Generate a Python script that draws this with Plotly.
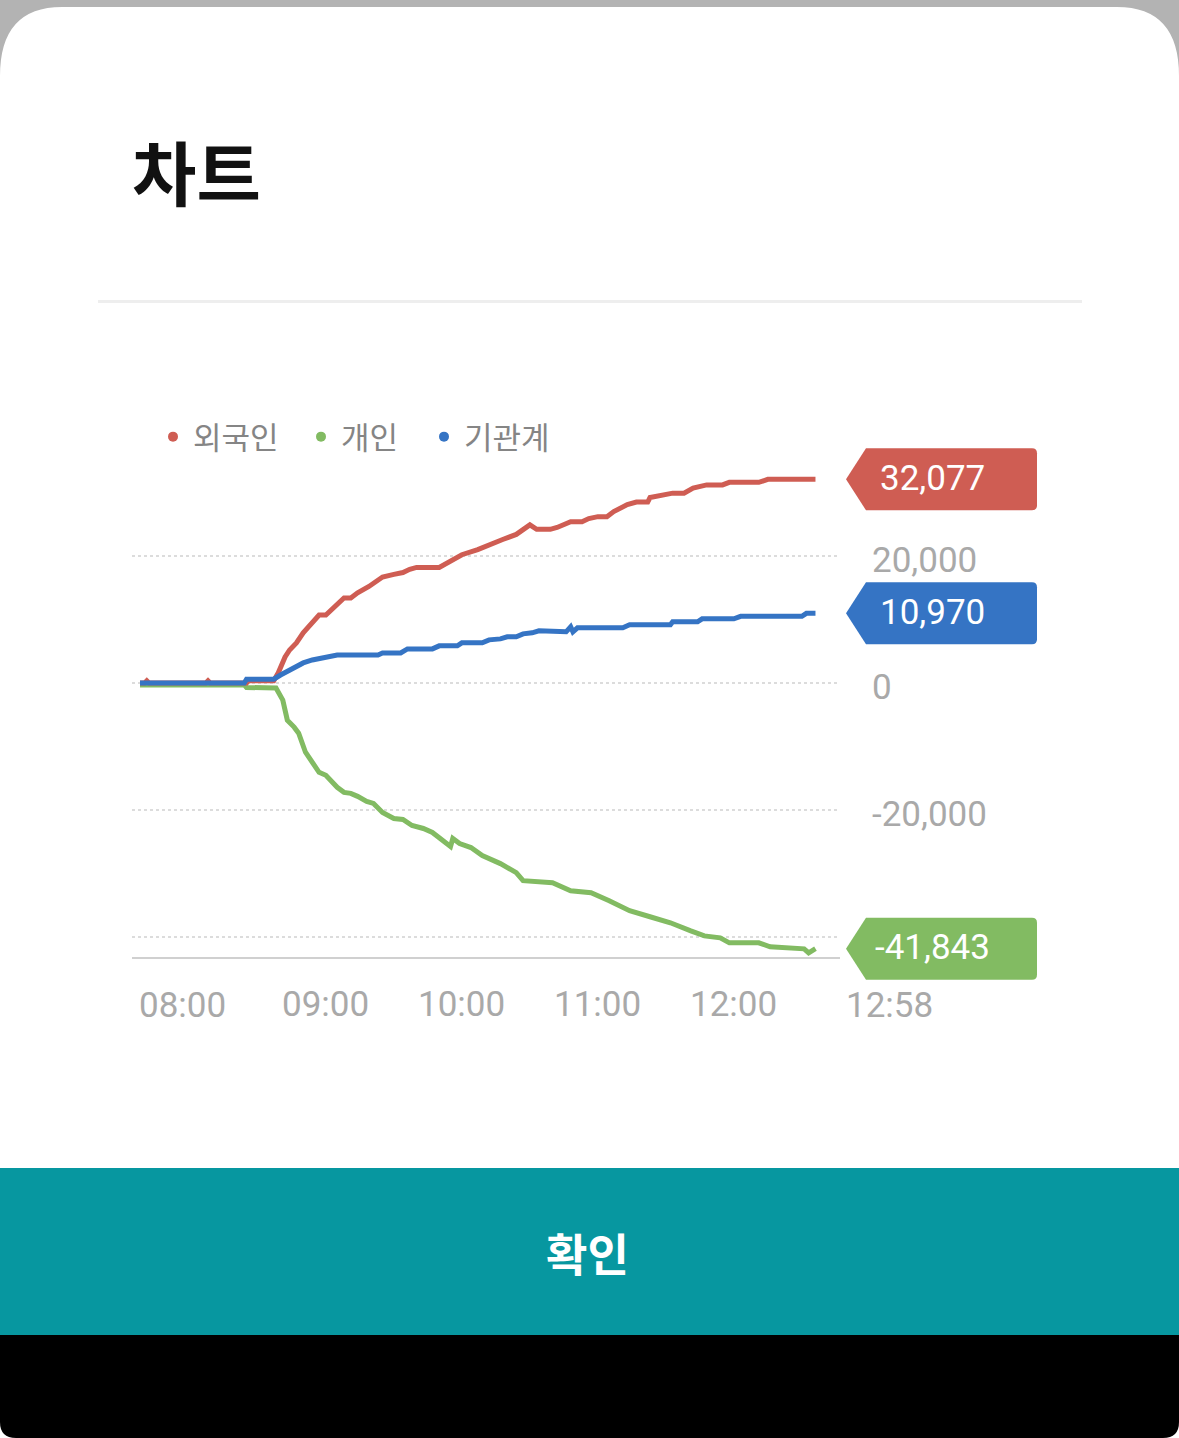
import pandas as pd
import plotly.graph_objects as go

DAY = "2024-01-02 "

series_names = ["외국인", "개인", "기관계"]
series_colors = ["#cf5d53", "#82bb62", "#3574c4"]

foreign_t = ["08:00","08:02","08:03","08:04","08:29","08:30","08:31","08:47","08:48","08:59","09:01","09:04","09:06","09:09","09:12","09:16","09:19","09:22","09:25","09:30","09:33","09:36","09:41","09:47","09:52","09:56","09:59","10:02","10:12","10:17","10:22","10:29","10:34","10:40","10:46","10:52","10:55","11:01","11:04","11:07","11:10","11:15","11:18","11:22","11:26","11:29","11:35","11:39","11:44","11:45","11:51","11:55","12:00","12:04","12:10","12:17","12:20","12:33","12:37","12:58"]
foreign_v = [0,0,350,0,0,350,0,0,350,350,1600,4100,5200,6300,7900,9500,10700,10700,11800,13400,13400,14200,15200,16700,17100,17400,17900,18200,18200,19100,20200,21000,21800,22600,23400,24900,24200,24200,24500,25000,25400,25400,25900,26200,26200,27000,28100,28500,28500,29200,29600,29900,29900,30700,31200,31200,31600,31600,32077,32077]

indiv_t = ["08:00","08:46","08:47","08:59","09:00","09:03","09:05","09:08","09:10","09:13","09:16","09:19","09:22","09:27","09:30","09:33","09:36","09:40","09:43","09:47","09:52","09:56","10:00","10:05","10:09","10:14","10:17","10:18","10:21","10:26","10:31","10:39","10:43","10:46","10:49","11:02","11:10","11:19","11:27","11:36","11:45","11:54","12:03","12:09","12:16","12:20","12:33","12:38","12:53","12:55","12:58"]
indiv_v = [-300,-300,-700,-700,-790,-2690,-5850,-6950,-7900,-10900,-12640,-14060,-14540,-16430,-17220,-17380,-17850,-18640,-18960,-20380,-21330,-21490,-22440,-22910,-23540,-24810,-25750,-24490,-25280,-25910,-27180,-28440,-29230,-29860,-31130,-31440,-32710,-33020,-34290,-35870,-36810,-37760,-39030,-39820,-40130,-40920,-40920,-41550,-41870,-42500,-41843]

inst_t = ["08:00","08:46","08:47","08:59","09:02","09:06","09:12","09:16","09:21","09:27","09:45","09:47","09:55","09:58","10:09","10:12","10:20","10:22","10:31","10:34","10:39","10:42","10:46","10:49","10:53","10:56","11:08","11:10","11:11","11:13","11:33","11:36","11:54","11:55","12:06","12:08","12:22","12:25","12:52","12:54","12:58"]
inst_v = [0,0,600,600,1260,2050,3160,3630,3950,4420,4420,4740,4740,5370,5370,5850,5850,6320,6320,6790,6950,7270,7270,7740,7900,8220,8060,8850,8060,8690,8690,9160,9160,9640,9640,10110,10110,10500,10500,10970,10970]

badge_texts = ["32,077", "-41,843", "10,970"]

x_ticks = ["08:00", "09:00", "10:00", "11:00", "12:00"]
last_time_label = "12:58"
y_ticks = [-40000, -20000, 0, 20000]
y_ticktext = ["", "-20,000", "0", "20,000"]

W, H = 1179, 1438
def fx(x): return x / W
def fy(y): return 1 - y / H

def ts(lst): return pd.to_datetime([DAY + t for t in lst])

series = [
    (foreign_t, foreign_v),
    (indiv_t, indiv_v),
    (inst_t, inst_v),
]

# geometry of plot area
x_left_px, x_right_px = 132, 840
y_top_px, y_bot_px = 440, 992
x_axis_line_px = 958
y_zero_px = 683
px_per_min = 136 / 60
px_per_unit = 127 / 20000
t0 = pd.to_datetime(DAY + "08:00")
x_range = [t0 + pd.Timedelta(minutes=(x_left_px - 140) / px_per_min),
           t0 + pd.Timedelta(minutes=(x_right_px - 140) / px_per_min)]
y_range = [-(y_bot_px - y_zero_px) / px_per_unit, (y_zero_px - y_top_px) / px_per_unit]

fig = go.Figure()

# lines (draw order: 개인, 외국인, 기관계)
for idx in [1, 0, 2]:
    t, v = series[idx]
    fig.add_trace(go.Scatter(x=ts(t), y=v, mode="lines", showlegend=False,
                             line=dict(color=series_colors[idx], width=5),
                             hoverinfo="skip"))

# legend entries (dots), one legend per entry for spacing
legend_ids = ["legend", "legend2", "legend3"]
legend_x_px = [153, 301, 424]
for idx in range(3):
    fig.add_trace(go.Scatter(x=[None], y=[None], mode="markers", name=series_names[idx],
                             legend=legend_ids[idx],
                             marker=dict(color=series_colors[idx], size=10)))

shapes = []
annotations = []

# badges at last value of each series
hh = 31 / px_per_unit
rr = 5 / px_per_unit
for idx in range(3):
    t, v = series[idx]
    lv = v[-1]
    xa, xb, xc, xd = fx(846), fx(866), fx(1032), fx(1037)
    path = (f"M {xa},{lv} L {xb},{lv + hh} L {xc},{lv + hh} Q {xd},{lv + hh} {xd},{lv + hh - rr} "
            f"L {xd},{lv - hh + rr} Q {xd},{lv - hh} {xc},{lv - hh} L {xb},{lv - hh} Z")
    shapes.append(dict(type="path", xref="paper", yref="y", path=path,
                       fillcolor=series_colors[idx], line=dict(width=0), layer="above"))
    annotations.append(dict(x=fx(932), y=lv, xref="paper", yref="y", text=badge_texts[idx],
                            showarrow=False, xanchor="center", yanchor="middle", yshift=1,
                            font=dict(family="Roboto", size=35, color="white")))

# first tick label (placed slightly left, as in the original) and last-time label
annotations.append(dict(x=pd.to_datetime(DAY + x_ticks[0]), y=fy(1005), xref="x", yref="paper",
                        text=x_ticks[0], showarrow=False, xanchor="left", yanchor="middle",
                        xshift=-3,
                        font=dict(family="Roboto", size=35, color="#a9a9a9")))
annotations.append(dict(x=pd.to_datetime(DAY + foreign_t[-1]), y=fy(1005), xref="x", yref="paper",
                        text=last_time_label, showarrow=False, xanchor="left", yanchor="middle",
                        xshift=29,
                        font=dict(family="Roboto", size=35, color="#a9a9a9")))

# decorations: top gray strip with rounded card corners
shapes.append(dict(type="path", xref="paper", yref="paper", layer="below",
                   path=f"M {fx(0)},{fy(0)} L {fx(W)},{fy(0)} L {fx(W)},{fy(76)} Q {fx(W)},{fy(7)} {fx(W-62)},{fy(7)} L {fx(62)},{fy(7)} Q {fx(0)},{fy(7)} {fx(0)},{fy(76)} Z",
                   fillcolor="#b3b3b3", line=dict(width=0)))
# separator
shapes.append(dict(type="line", xref="paper", yref="paper", x0=fx(98), x1=fx(1082), y0=fy(301.5), y1=fy(301.5),
                   line=dict(color="#eeeeee", width=3), layer="below"))
# button
shapes.append(dict(type="rect", xref="paper", yref="paper", x0=0, x1=1, y0=fy(1335), y1=fy(1168),
                   fillcolor="#0797a0", line=dict(width=0), layer="below"))
# black bottom with rounded corners
shapes.append(dict(type="path", xref="paper", yref="paper", layer="below",
                   path=f"M {fx(0)},{fy(1335)} L {fx(W)},{fy(1335)} L {fx(W)},{fy(1422)} Q {fx(W)},{fy(H)} {fx(W-16)},{fy(H)} L {fx(16)},{fy(H)} Q {fx(0)},{fy(H)} {fx(0)},{fy(1422)} Z",
                   fillcolor="#000000", line=dict(width=0)))

annotations.append(dict(x=fx(130), y=fy(170), xref="paper", yref="paper", text="<b>차트</b>",
                        showarrow=False, xanchor="left", yanchor="middle",
                        font=dict(family="Noto Sans CJK KR", size=70, color="#111111")))
annotations.append(dict(x=fx(587), y=fy(1252), xref="paper", yref="paper", text="<b>확인</b>",
                        showarrow=False, xanchor="center", yanchor="middle",
                        font=dict(family="Noto Sans CJK KR", size=45, color="#ffffff")))

legend_common = dict(orientation="h", yanchor="middle", xanchor="left",
                     font=dict(family="Noto Sans CJK KR", size=31, color="#858585"),
                     bgcolor="rgba(0,0,0,0)", itemclick=False, itemdoubleclick=False)

fig.update_layout(
    width=W, height=H,
    margin=dict(l=0, r=0, t=0, b=0),
    paper_bgcolor="white", plot_bgcolor="white",
    shapes=shapes, annotations=annotations,
    showlegend=True,
    legend=dict(x=fx(legend_x_px[0]), y=fy(437), **legend_common),
    legend2=dict(x=fx(legend_x_px[1]), y=fy(437), **legend_common),
    legend3=dict(x=fx(legend_x_px[2]), y=fy(437), **legend_common),
    xaxis=dict(domain=[fx(x_left_px), fx(x_right_px)], range=x_range, type="date",
               anchor="free", position=fy(x_axis_line_px),
               tickvals=pd.to_datetime([DAY + t for t in x_ticks[1:]]), ticktext=x_ticks[1:],
               ticklabelposition="outside right", ticklabelshift=5, ticks="", showgrid=False, zeroline=False,
               showline=True, linecolor="#d0d0d0", linewidth=2,
               tickfont=dict(family="Roboto", size=35, color="#a9a9a9"), ticklabelstandoff=15,
               fixedrange=True),
    yaxis=dict(domain=[fy(y_bot_px), fy(y_top_px)], range=y_range, side="right", anchor="x",
               tickvals=y_ticks, ticktext=y_ticktext, ticks="", showgrid=True,
               gridcolor="#dcdcdc", gridwidth=2, griddash="dot", zeroline=False, showline=False,
               tickfont=dict(family="Roboto", size=35, color="#a9a9a9"), ticklabelstandoff=31,
               ticklabelshift=4, fixedrange=True),
)

fig.write_html("out.html")
